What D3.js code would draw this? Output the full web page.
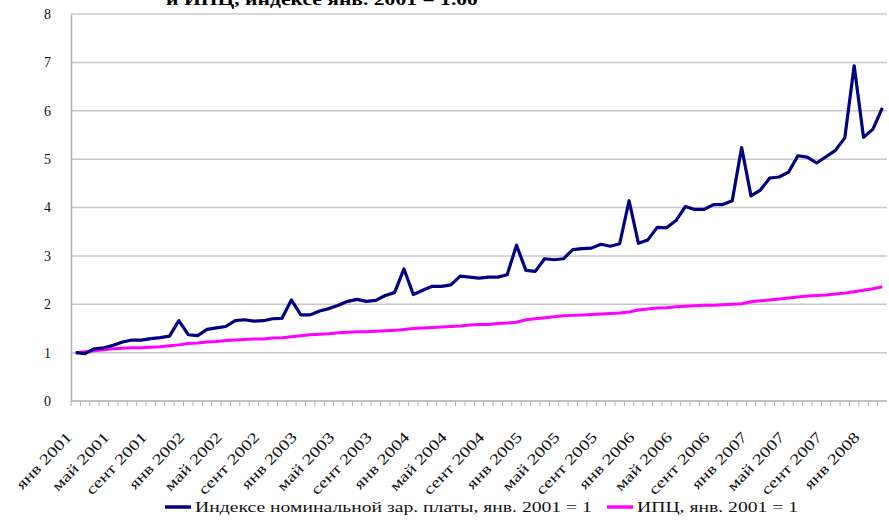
<!DOCTYPE html>
<html>
<head>
<meta charset="utf-8" />
<script src="https://d3js.org/d3.v7.min.js"></script>
<style>
  body { margin: 0; background: #fff; }
</style>
</head>
<body>
<div id="canvas"></div>
<script>
// месяцы: янв 2001 .. март 2008
var monthNames = ["янв", "фев", "март", "апр", "май", "июнь", "июль", "авг", "сент", "окт", "нояб", "дек"];
var years = [2001, 2002, 2003, 2004, 2005, 2006, 2007, 2008];

// индекс номинальной зарплаты, янв. 2001 = 1
var wages = [
  1.00, 0.98, 1.08, 1.10, 1.15, 1.22, 1.26, 1.26, 1.29, 1.31, 1.34, 1.66,
  1.37, 1.35, 1.48, 1.51, 1.54, 1.66, 1.68, 1.65, 1.66, 1.70, 1.71, 2.09,
  1.78, 1.78, 1.86, 1.91, 1.98, 2.06, 2.10, 2.06, 2.08, 2.18, 2.24, 2.73,
  2.20, 2.29, 2.37, 2.37, 2.40, 2.58, 2.56, 2.54, 2.56, 2.56, 2.61, 3.22,
  2.70, 2.68, 2.94, 2.92, 2.94, 3.13, 3.15, 3.16, 3.24, 3.20, 3.25, 4.14,
  3.26, 3.33, 3.59, 3.58, 3.73, 4.02, 3.96, 3.96, 4.06, 4.06, 4.14, 5.24,
  4.24, 4.36, 4.61, 4.63, 4.73, 5.07, 5.04, 4.92, 5.05, 5.18, 5.44, 6.93,
  5.45, 5.62, 6.06
];

// ИПЦ, янв. 2001 = 1
var cpi = [
  1.00, 1.02, 1.04, 1.06, 1.08, 1.09, 1.10, 1.10, 1.11, 1.12, 1.14, 1.16,
  1.19, 1.20, 1.22, 1.23, 1.25, 1.26, 1.27, 1.28, 1.28, 1.30, 1.31, 1.33,
  1.35, 1.37, 1.38, 1.39, 1.41, 1.42, 1.43, 1.43, 1.44, 1.45, 1.46, 1.48,
  1.50, 1.51, 1.52, 1.53, 1.54, 1.55, 1.57, 1.58, 1.58, 1.60, 1.61, 1.63,
  1.68, 1.70, 1.72, 1.74, 1.76, 1.77, 1.78, 1.79, 1.80, 1.81, 1.82, 1.84,
  1.88, 1.90, 1.92, 1.93, 1.95, 1.96, 1.97, 1.98, 1.98, 1.99, 2.00, 2.01,
  2.05, 2.07, 2.09, 2.11, 2.13, 2.15, 2.17, 2.18, 2.19, 2.21, 2.23, 2.26,
  2.29, 2.32, 2.36
];

var yTicks = [0, 1, 2, 3, 4, 5, 6, 7, 8];

var categories = [];
years.forEach(function(y) {
  monthNames.forEach(function(m) { categories.push(m + " " + y); });
});
categories = categories.slice(0, wages.length);

var width = 889, height = 521;
var margin = {left: 71, right: 2, top: 14, bottom: 120};
var serif = "'Liberation Serif'";
var stretch = 1.27; // текст на картинке растянут по горизонтали

var svg = d3.select("#canvas").append("svg")
  .attr("width", width)
  .attr("height", height)
  .style("font-family", serif);

// растянуть текст по длине
function widen(sel, k) {
  sel.each(function() {
    var len = this.getComputedTextLength();
    d3.select(this).attr("textLength", len * k).attr("lengthAdjust", "spacingAndGlyphs");
  });
}

var x = d3.scaleBand()
  .domain(categories)
  .range([margin.left, width - margin.right]);

var y = d3.scaleLinear()
  .domain([0, 8])
  .range([height - margin.bottom, margin.top]);

// заголовок (обрезан сверху)
svg.append("text")
  .attr("x", 322)
  .attr("y", 5)
  .attr("text-anchor", "middle")
  .style("font-family", serif)
  .attr("font-size", "17px")
  .attr("font-weight", "bold")
  .text("и ИПЦ, индексе янв. 2001 = 1.00")
  .call(widen, stretch);

// сетка
svg.append("g").selectAll("line")
  .data(yTicks.slice(1))
  .enter().append("line")
  .attr("x1", margin.left)
  .attr("x2", width - margin.right)
  .attr("y1", function(d) { return y(d); })
  .attr("y2", function(d) { return y(d); })
  .attr("stroke", "#c8c8c8")
  .attr("stroke-width", 1.5);

// ось Y
var yAxis = svg.append("g")
  .attr("transform", "translate(" + margin.left + ",0)")
  .call(d3.axisLeft(y).tickValues(yTicks).tickSize(0).tickPadding(20));
yAxis.select(".domain").attr("stroke", "#b0b0b0").attr("stroke-width", 1.5);
yAxis.selectAll("text")
  .style("font-family", serif)
  .attr("font-size", "14px")
  .attr("fill", "#111");

// ось X
var xAxis = svg.append("g")
  .attr("transform", "translate(0," + y(0) + ")");
xAxis.append("line")
  .attr("x1", margin.left).attr("x2", width - margin.right)
  .attr("stroke", "#b0b0b0").attr("stroke-width", 1.5);
xAxis.selectAll(".tick")
  .data(categories)
  .enter().append("line")
  .attr("x1", function(d) { return x(d); })
  .attr("x2", function(d) { return x(d); })
  .attr("y1", 0).attr("y2", 5)
  .attr("stroke", "#b0b0b0");

xAxis.selectAll(".lbl")
  .data(categories.filter(function(d, i) { return i % 4 === 0; }))
  .enter().append("text")
  .attr("class", "lbl")
  .attr("text-anchor", "end")
  .style("font-family", serif)
  .attr("font-size", "15px")
  .attr("fill", "#111")
  .attr("transform", function(d) {
    return "translate(" + (x(d) + x.bandwidth() / 2 - 3) + ",37) rotate(-46)";
  })
  .text(function(d) { return d; })
  .call(widen, 1.3);

// линии
var line = d3.line()
  .x(function(d, i) { return x(categories[i]) + x.bandwidth() / 2; })
  .y(function(d) { return y(d); });

svg.append("path")
  .datum(cpi)
  .attr("fill", "none")
  .attr("stroke", "#ff00ff")
  .attr("stroke-width", 3)
  .attr("d", line);

svg.append("path")
  .datum(wages)
  .attr("fill", "none")
  .attr("stroke", "#000080")
  .attr("stroke-width", 3.2)
  .attr("stroke-linejoin", "round")
  .attr("d", line);

// легенда
var legend = [
  {name: "Индексе номинальной зар. платы, янв. 2001 = 1", color: "#000080", x: 165},
  {name: "ИПЦ, янв. 2001 = 1", color: "#ff00ff", x: 607}
];
var lg = svg.append("g").selectAll("g")
  .data(legend)
  .enter().append("g")
  .attr("transform", function(d) { return "translate(" + d.x + ",507)"; });
lg.append("line")
  .attr("x1", 0).attr("x2", 26)
  .attr("stroke", function(d) { return d.color; })
  .attr("stroke-width", 3.5);
lg.append("text")
  .attr("x", 30)
  .attr("dy", "0.35em")
  .style("font-family", serif)
  .attr("font-size", "15px")
  .attr("fill", "#111")
  .text(function(d) { return d.name; })
  .call(widen, 1.31);
</script>
</body>
</html>
